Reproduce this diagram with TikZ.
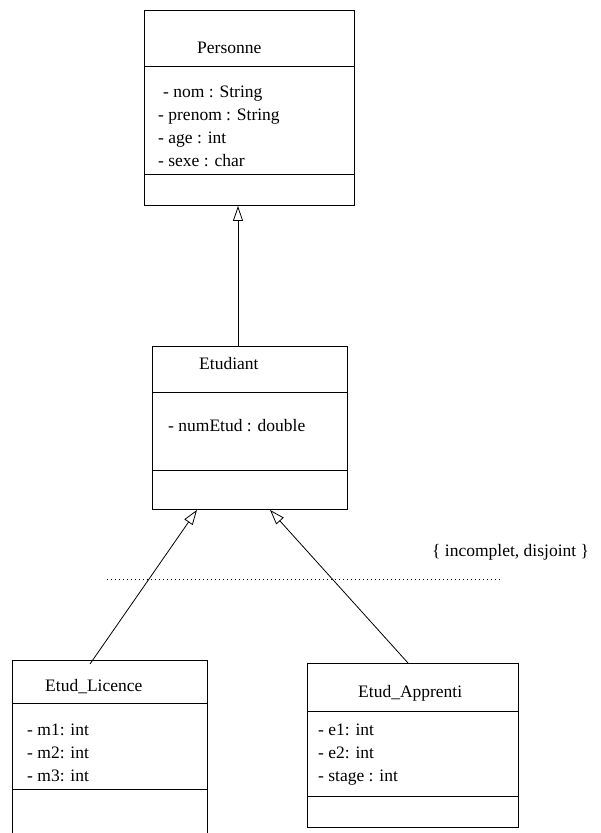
\documentclass[tikz,border=0pt]{standalone}
\usepackage{fontspec}
\setmainfont{Liberation Serif}
\newfontfamily\umlfont{Liberation Serif}
\usetikzlibrary{arrows.meta,calc}
\begin{document}
\begin{tikzpicture}[x=1pt,y=-1pt,
  box/.style={draw,line width=0.9pt,anchor=north west,inner sep=0pt},
  sep/.style={line width=0.9pt},
  txt/.style={anchor=base west,inner sep=0pt,font=\umlfont\fontsize{17.5}{21}\selectfont},
  inh/.style={line width=0.8pt,-{Triangle[open,length=15pt,width=10pt]}}]
\clip (0,0) rectangle (600,833);
\fill[white] (0,0) rectangle (600,833);
% Personne
\node[box,minimum width=210pt,minimum height=195pt] (per) at (144,10) {};
\draw[sep] (144,66) -- (354,66);
\draw[sep] (144,174) -- (354,174);
\node[txt] (perT) at (197,53) {Personne};
\node[txt] (perA1) at (163,97) {- nom : String};
\node[txt] (perA2) at (158,120) {- prenom : String};
\node[txt] (perA3) at (158,143) {- age : int};
\node[txt] (perA4) at (158,166) {- sexe : char};
% Etudiant
\node[box,minimum width=195pt,minimum height=163pt] (etu) at (152,346) {};
\draw[sep] (152,392) -- (347,392);
\draw[sep] (152,470) -- (347,470);
\node[txt] (etuT) at (199,369) {Etudiant};
\node[txt] (etuA1) at (168,431) {- numEtud : double};
% Etud_Licence
\node[box,minimum width=195pt,minimum height=190pt] (lic) at (12,660) {};
\draw[sep] (12,703) -- (207,703);
\draw[sep] (12,789) -- (207,789);
\node[txt] (licT) at (45,691) {Etud\_Licence};
\node[txt] (licA1) at (27,735) {- m1: int};
\node[txt] (licA2) at (27,758) {- m2: int};
\node[txt] (licA3) at (27,781) {- m3: int};
% Etud_Apprenti
\node[box,minimum width=211pt,minimum height=164pt] (app) at (307,663) {};
\draw[sep] (307,711) -- (518,711);
\draw[sep] (307,796) -- (518,796);
\node[txt] (appT) at (358,697) {Etud\_Apprenti};
\node[txt] (appA1) at (318,735) {- e1: int};
\node[txt] (appA2) at (318,758) {- e2: int};
\node[txt] (appA3) at (318,781) {- stage : int};
% constraint
\node[txt] (cons) at (432,556) {\{ incomplet, disjoint \}};
\coordinate (dotL) at (107,579);
\coordinate (dotR) at (500,579);
\draw[line width=0.7pt,dash pattern=on 0.8pt off 3.2pt] (dotL) -- (dotR);
% inheritance
\draw[inh] ([xshift=94]per.south west |- etu.north) -- ([xshift=94]per.south west);
\draw[inh] ([xshift=78,yshift=-4]lic.north west) -- ([xshift=45]etu.south west);
\draw[inh] ([xshift=101]app.north west) -- ([xshift=118]etu.south west);
\end{tikzpicture}
\end{document}
